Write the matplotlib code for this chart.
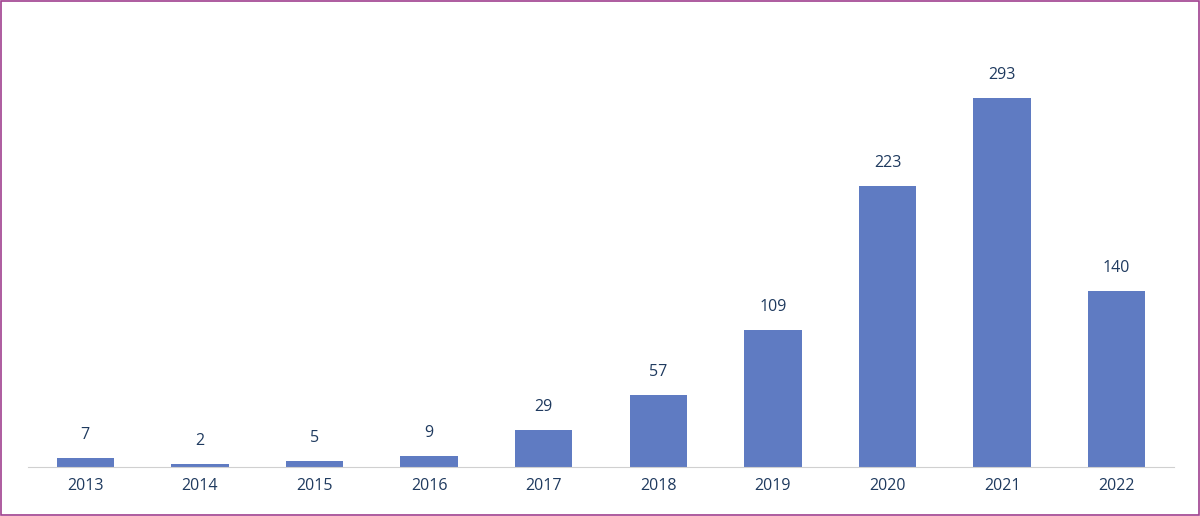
import matplotlib
matplotlib.use("Agg")
import matplotlib.pyplot as plt
from matplotlib.patches import Rectangle

years = ["2013","2014","2015","2016","2017","2018","2019","2020","2021","2022"]
values = [7, 2, 5, 9, 29, 57, 109, 223, 293, 140]

plt.rcParams["font.family"] = "Open Sans"
fig = plt.figure(figsize=(12, 5.16), dpi=100)
ax = fig.add_axes([28/1200, 49/516, 1146/1200, 447/516])
x = range(len(years))
bars = ax.bar(x, values, width=0.5, color="#5f7bc2")
for xi, v in zip(x, values):
    ax.text(xi, v + 12, str(v), ha="center", va="bottom", fontsize=11.5, color="#1f3a5f")
ax.set_xlim(-0.5, len(years) - 0.5)
ax.set_ylim(0, 355)
ax.set_xticks(list(x))
ax.set_xticklabels(years, fontsize=11.5, color="#1f3a5f")
ax.tick_params(axis="x", length=0, pad=8)
ax.set_yticks([])
for s in ["top", "right", "left"]:
    ax.spines[s].set_visible(False)
ax.spines["bottom"].set_color("#d0d0d0")
fig.patches.append(Rectangle((0.001, 0.002), 0.998, 0.996, transform=fig.transFigure,
                             fill=False, edgecolor="#a0408f", linewidth=1.2))
fig.savefig("out.png", dpi=100)
